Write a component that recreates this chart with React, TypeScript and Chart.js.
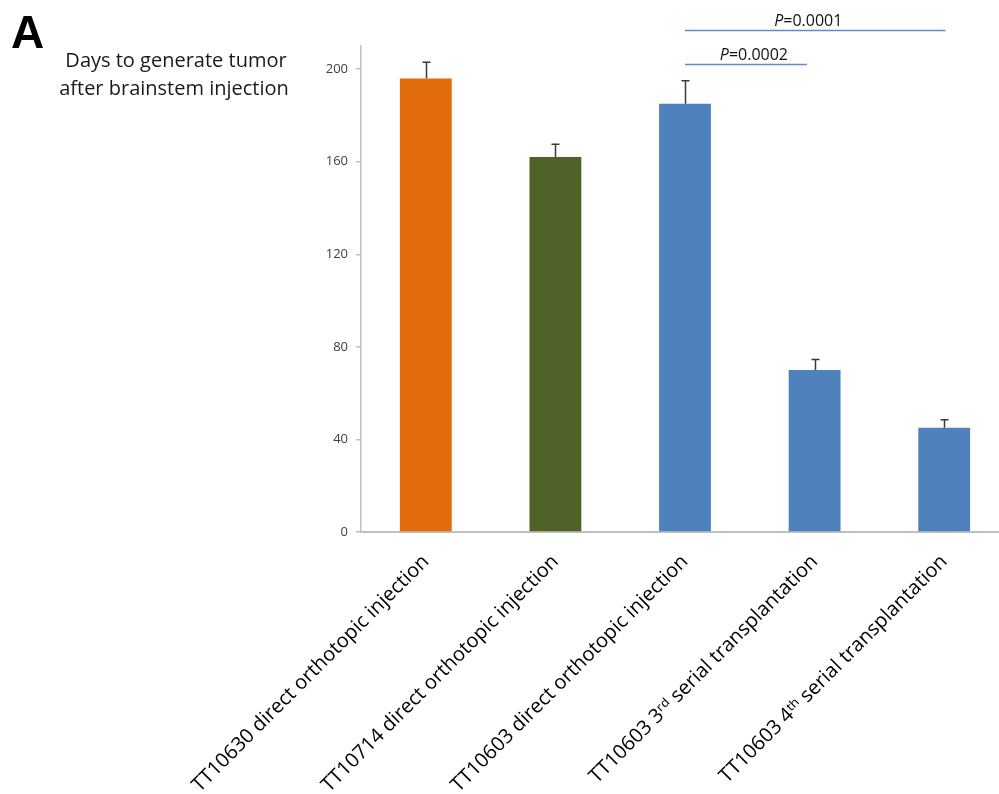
import React, { useEffect, useRef } from "react";
import { Chart, registerables } from "chart.js";

Chart.register(...registerables);

const categories = [
  "TT10630 direct orthotopic injection",
  "TT10714 direct orthotopic injection",
  "TT10603 direct orthotopic injection",
  "TT10603 3ʳᵈ serial transplantation",
  "TT10603 4ᵗʰ serial transplantation",
];
const days = [196, 162, 185, 70, 45];
const errors = [7, 5.5, 10, 4.5, 3.5];
const barColors = ["#E36C0A", "#4F6228", "#4F81BD", "#4F81BD", "#4F81BD"];
const yTicks = [0, 40, 80, 120, 160, 200];
const yMax = 210;
const pLabels = ["0.0001", "0.0002"];
const pFrom = [2, 2];
const pTo = [4.01, 2.94];
const pLevel = [216.7, 202];
const pTextShift = [-7, 8];
const panelLetter = "A";
const titleLines = ["Days to generate tumor", "after brainstem injection"];

const FONT = "'Open Sans', 'Noto Sans', sans-serif";

const overlayPlugin = {
  id: "overlay",
  afterDatasetsDraw(chart: any) {
    const ctx = chart.ctx;
    const xs = chart.scales.x;
    const ys = chart.scales.y;
    const meta = chart.getDatasetMeta(0);
    ctx.save();
    // error bars
    ctx.strokeStyle = "#3a3a3a";
    ctx.lineWidth = 1.5;
    meta.data.forEach((el: any, i: number) => {
      const x = Math.round(el.x) + 0.5;
      const yTop = ys.getPixelForValue(days[i] + errors[i]);
      const yBar = ys.getPixelForValue(days[i]);
      ctx.beginPath();
      ctx.moveTo(x, yBar);
      ctx.lineTo(x, yTop);
      ctx.moveTo(x - 4, yTop);
      ctx.lineTo(x + 4, yTop);
      ctx.stroke();
    });
    // significance lines
    pLabels.forEach((lab, i) => {
      const x1 = xs.getPixelForValue(pFrom[i]);
      const x2 = xs.getPixelForValue(pTo[i]);
      const y = ys.getPixelForValue(pLevel[i]);
      ctx.strokeStyle = "#5B8BD0";
      ctx.lineWidth = 1.5;
      ctx.beginPath();
      ctx.moveTo(x1, y);
      ctx.lineTo(x2, y);
      ctx.stroke();
      const italic = "italic 16px " + FONT;
      const normal = "16px " + FONT;
      ctx.font = italic;
      const wP = ctx.measureText("P").width;
      ctx.font = normal;
      const rest = "=" + lab;
      const wR = ctx.measureText(rest).width;
      const cx = (x1 + x2) / 2 + pTextShift[i];
      const start = cx - (wP + wR) / 2;
      ctx.fillStyle = "#111";
      ctx.textBaseline = "alphabetic";
      ctx.textAlign = "left";
      ctx.font = italic;
      ctx.fillText("P", start, y - 4.5);
      ctx.font = normal;
      ctx.fillText(rest, start + wP, y - 4.5);
    });
    // panel letter and title
    ctx.fillStyle = "#000";
    ctx.textAlign = "left";
    ctx.font = "bold 46px 'Liberation Sans', Arial, sans-serif";
    ctx.fillText(panelLetter, 11, 48);
    ctx.textAlign = "center";
    ctx.font = "20px " + FONT;
    ctx.fillStyle = "#1a1a1a";
    ctx.fillText(titleLines[0], 176, 67);
    ctx.fillText(titleLines[1], 174, 95);
    ctx.restore();
  },
};

export default function App() {
  const ref = useRef<HTMLCanvasElement | null>(null);
  useEffect(() => {
    if (!ref.current) return;
    const chart = new Chart(ref.current, {
      type: "bar",
      data: {
        labels: categories,
        datasets: [
          {
            data: days,
            backgroundColor: barColors,
            borderWidth: 0,
            barPercentage: 0.4,
            categoryPercentage: 1.0,
          },
        ],
      },
      options: {
        responsive: false,
        animation: false,
        layout: { padding: { top: 46, left: 0, right: 0, bottom: 0 } },
        plugins: {
          legend: { display: false },
          tooltip: { enabled: false },
          title: { display: false },
        },
        scales: {
          x: {
            grid: { display: false },
            border: { display: true, color: "#c0c0c0", width: 2 },
            ticks: {
              autoSkip: false,
              minRotation: 45,
              maxRotation: 45,
              padding: 10,
              color: "#000",
              font: { family: FONT, size: 20 },
            },
            afterFit(scale: any) {
              scale.height = 262;
            },
          },
          y: {
            min: 0,
            max: yMax,
            grid: {
              drawOnChartArea: false,
              tickLength: 5,
              color: "#c0c0c0",
              lineWidth: 1.5,
            },
            border: { display: true, color: "#c0c0c0", width: 1.5 },
            ticks: {
              padding: 8,
              color: "#404040",
              font: { family: FONT, size: 13 },
            },
            afterBuildTicks(scale: any) {
              scale.ticks = yTicks.map((v) => ({ value: v }));
            },
            afterFit(scale: any) {
              scale.width = 361;
            },
          },
        },
      },
      plugins: [overlayPlugin],
    });
    return () => chart.destroy();
  }, []);
  return (
    <div
      style={{
        position: "fixed",
        left: 0,
        top: 0,
        width: 999,
        height: 794,
        overflow: "hidden",
        background: "#fff",
      }}
    >
      <canvas ref={ref} width={1009} height={794} style={{ display: "block" }} />
    </div>
  );
}
